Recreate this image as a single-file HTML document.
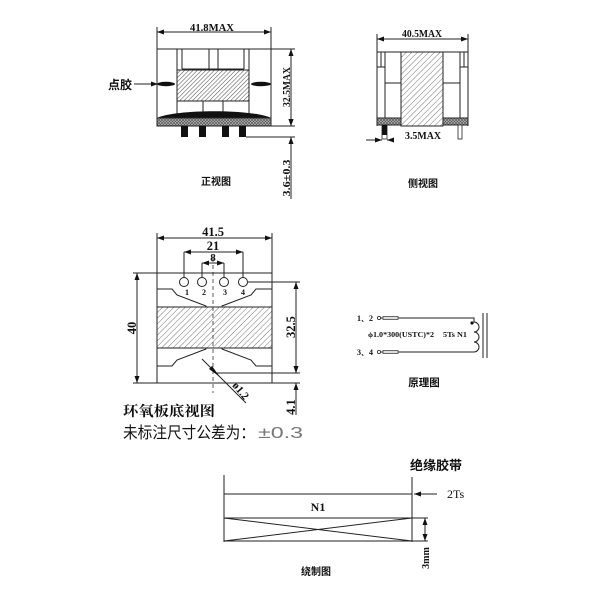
<!DOCTYPE html>
<html><head><meta charset="utf-8"><style>
html,body{margin:0;padding:0;background:#fff;}
svg{display:block;}
.l{stroke:#222;stroke-width:1;fill:none;}
.t{font-family:"Liberation Serif","Noto Serif CJK SC",serif;font-weight:bold;fill:#111;}
.c{font-family:"Liberation Sans","Noto Sans CJK SC",sans-serif;font-weight:bold;fill:#111;}
</style></head><body>
<svg width="600" height="600" viewBox="0 0 600 600" xmlns="http://www.w3.org/2000/svg">
<defs>
<marker id="a" markerUnits="userSpaceOnUse" markerWidth="7" markerHeight="5" refX="7" refY="2.5" orient="auto-start-reverse"><path d="M0,0 L7,2.5 L0,5 z" fill="#111"/></marker>
<pattern id="h" width="3" height="3" patternUnits="userSpaceOnUse" patternTransform="rotate(45)"><rect width="3" height="3" fill="#fff"/><line x1="0" y1="0" x2="0" y2="3" stroke="#555" stroke-width="1.1"/></pattern>
<pattern id="h2" width="4" height="4" patternUnits="userSpaceOnUse" patternTransform="rotate(45)"><rect width="4" height="4" fill="#fff"/><line x1="0" y1="0" x2="0" y2="4" stroke="#666" stroke-width="0.9"/></pattern>
<pattern id="d" width="3" height="3" patternUnits="userSpaceOnUse"><rect width="3" height="3" fill="#bbb"/><path d="M0,0 L3,3 M3,0 L0,3" stroke="#555" stroke-width="0.7"/></pattern>
</defs>

<!-- ===== Front view ===== -->
<line class="l" x1="157" y1="27" x2="157" y2="49"/>
<line class="l" x1="271" y1="27" x2="271" y2="49"/>
<line class="l" x1="157" y1="32" x2="271" y2="32" marker-start="url(#a)" marker-end="url(#a)"/>
<text class="t" x="212" y="31" font-size="11" text-anchor="middle" textLength="44" lengthAdjust="spacingAndGlyphs">41.8MAX</text>
<line class="l" x1="157" y1="49" x2="295" y2="49"/>
<line class="l" x1="157" y1="49" x2="157" y2="118"/>
<line class="l" x1="271" y1="49" x2="271" y2="118"/>
<path class="l" d="M177,49 V70 M182,49 V69 M209,49 V69 M218,49 V69 M244,49 V69 M249,49 V70 M182,69 H244"/>
<rect x="177" y="70" width="72" height="31" fill="url(#h)" stroke="#222" stroke-width="1"/>
<path class="l" d="M177,101 V115 M203,101 V114 M223,101 V114 M249,101 V115"/>
<path d="M157,118 C175,109 253,109 271,118 Z" fill="#111"/>
<rect x="157" y="118" width="114" height="8" fill="url(#d)" stroke="#222" stroke-width="1"/>
<rect x="181" y="126" width="7" height="11" fill="#111"/>
<rect x="199" y="126" width="7" height="11" fill="#111"/>
<rect x="222" y="126" width="7" height="11" fill="#111"/>
<rect x="239" y="126" width="7" height="11" fill="#111"/>
<ellipse cx="166" cy="84" rx="9" ry="2.2" fill="#111"/>
<ellipse cx="261" cy="84" rx="10" ry="2.2" fill="#111"/>
<line class="l" x1="134" y1="84" x2="158" y2="84" marker-end="url(#a)"/>
<text class="c" x="108" y="89" font-size="12">点胶</text>
<line class="l" x1="271" y1="126" x2="295" y2="126"/>
<line class="l" x1="246" y1="137" x2="295" y2="137"/>
<line class="l" x1="291" y1="49" x2="291" y2="126" marker-start="url(#a)" marker-end="url(#a)"/>
<line class="l" x1="291" y1="137" x2="291" y2="199"/>
<path d="M291,137 L288.5,144 L293.5,144 z" fill="#111"/>
<path d="M291,126 L288.5,119 L293.5,119 z" fill="#111"/>
<text class="t" font-size="11" text-anchor="middle" transform="translate(290,87) rotate(-90)" textLength="40" lengthAdjust="spacingAndGlyphs">32.5MAX</text>
<text class="t" font-size="11" text-anchor="middle" transform="translate(290,178) rotate(-90)" textLength="37" lengthAdjust="spacingAndGlyphs">3.6±0.3</text>
<text class="c" x="216" y="185" font-size="10" text-anchor="middle">正视图</text>

<!-- ===== Side view ===== -->
<line class="l" x1="377" y1="34" x2="377" y2="52"/>
<line class="l" x1="468" y1="34" x2="468" y2="52"/>
<line class="l" x1="377" y1="39" x2="468" y2="39" marker-start="url(#a)" marker-end="url(#a)"/>
<text class="t" x="422" y="37" font-size="11" text-anchor="middle" textLength="40" lengthAdjust="spacingAndGlyphs">40.5MAX</text>
<path class="l" d="M377,52 H468 M377,52 V126 M468,52 V126 M381,52 V67 M385,52 V118 M377,67 H385 M385,83 H401 M464,52 V67 M460,52 V118 M468,67 H460 M443,83 H460"/>
<rect x="401" y="52" width="42" height="74" fill="url(#h2)" stroke="#222" stroke-width="1"/>
<rect x="377" y="118" width="24" height="7" fill="url(#d)" stroke="#222" stroke-width="1"/>
<rect x="443" y="118" width="25" height="7" fill="url(#d)" stroke="#222" stroke-width="1"/>
<rect x="382" y="125" width="5" height="14" fill="#fff" stroke="#222" stroke-width="0.8"/>
<rect x="382" y="125" width="5" height="10" fill="#111"/>
<rect x="458" y="125" width="4" height="14" fill="#fff" stroke="#222" stroke-width="0.8"/>
<line class="l" x1="366" y1="140" x2="382" y2="140" marker-end="url(#a)"/>
<line class="l" x1="394" y1="140" x2="387" y2="140" marker-end="url(#a)"/>
<text class="t" x="405" y="139" font-size="11" textLength="36" lengthAdjust="spacingAndGlyphs">3.5MAX</text>
<text class="c" x="423" y="187" font-size="10" text-anchor="middle">侧视图</text>

<!-- ===== Bottom view ===== -->
<line class="l" x1="157" y1="233" x2="157" y2="383"/>
<line class="l" x1="272" y1="233" x2="272" y2="383"/>
<line class="l" x1="157" y1="238" x2="272" y2="238" marker-start="url(#a)" marker-end="url(#a)"/>
<text class="t" x="213" y="236" font-size="12.5" text-anchor="middle">41.5</text>
<line class="l" x1="184" y1="252" x2="243" y2="252" marker-start="url(#a)" marker-end="url(#a)"/>
<text class="t" x="213" y="250" font-size="12.5" text-anchor="middle">21</text>
<line class="l" x1="202" y1="263" x2="224" y2="263" marker-start="url(#a)" marker-end="url(#a)"/>
<text class="t" x="213" y="261" font-size="11" text-anchor="middle">8</text>
<path class="l" d="M184,252 V277 M243,252 V277 M202,263 V277 M224,263 V277"/>
<line x1="213" y1="258" x2="213" y2="393" stroke="#333" stroke-width="0.8" stroke-dasharray="4,3"/>
<circle class="l" cx="184" cy="282" r="4.5"/>
<circle class="l" cx="202" cy="282" r="4.5"/>
<circle class="l" cx="224" cy="282" r="4.5"/>
<circle class="l" cx="243" cy="282" r="4.5"/>
<text class="t" x="187" y="295" font-size="8" text-anchor="middle">1</text>
<text class="t" x="204" y="295" font-size="8" text-anchor="middle">2</text>
<text class="t" x="225" y="295" font-size="8" text-anchor="middle">3</text>
<text class="t" x="243" y="295" font-size="8" text-anchor="middle">4</text>
<line class="l" x1="133" y1="273" x2="272" y2="273"/>
<line class="l" x1="133" y1="383" x2="300" y2="383"/>
<line class="l" x1="137" y1="273" x2="137" y2="383" marker-start="url(#a)" marker-end="url(#a)"/>
<text class="t" font-size="12.5" text-anchor="middle" transform="translate(136,328) rotate(-90)">40</text>
<path class="l" d="M157,289 H172 L177,295 L206,306 V307 M222,307 V306 L251,295 L256,289 H272"/>
<path class="l" d="M157,366 H172 L177,360 L206,349 V348 M222,348 V349 L251,360 L256,366 H272"/>
<rect x="157" y="307" width="115" height="41" fill="url(#h2)" stroke="#222" stroke-width="1"/>
<line x1="213" y1="307" x2="213" y2="348" stroke="#333" stroke-width="0.8" stroke-dasharray="4,3"/>
<line class="l" x1="248" y1="282" x2="300" y2="282"/>
<line class="l" x1="217" y1="373" x2="300" y2="373"/>
<line class="l" x1="296" y1="282" x2="296" y2="373" marker-start="url(#a)" marker-end="url(#a)"/>
<line class="l" x1="296" y1="383" x2="296" y2="415"/>
<path d="M296,383 L293.5,390 L298.5,390 z" fill="#111"/>
<path d="M296,373 L293.5,366 L298.5,366 z" fill="#111"/>
<text class="t" font-size="12.5" text-anchor="middle" transform="translate(295,327) rotate(-90)">32.5</text>
<text class="t" font-size="12.5" text-anchor="middle" transform="translate(295,407) rotate(-90)">4.1</text>
<line class="l" x1="202" y1="359" x2="246" y2="403"/>
<path d="M220,377 L209,369 L212,366 z" fill="#111"/>
<text class="t" font-size="11" text-anchor="middle" transform="translate(238,393) rotate(50)">ø1.2</text>
<text x="123" y="416" font-family="Liberation Serif, 'Noto Serif CJK SC', serif" font-weight="bold" font-size="14" textLength="92" lengthAdjust="spacingAndGlyphs" fill="#111">环氧板底视图</text>
<text x="123" y="438" font-family="Liberation Sans, 'Noto Sans CJK SC', sans-serif" font-size="16" fill="#111" textLength="132" lengthAdjust="spacingAndGlyphs">未标注尺寸公差为：</text>
<text x="258" y="438" font-family="Liberation Sans, 'Noto Sans CJK SC', sans-serif" font-size="16" fill="#777" textLength="45" lengthAdjust="spacingAndGlyphs">±0.3</text>

<!-- ===== Schematic ===== -->
<text class="t" x="357" y="321" font-size="8" textLength="16" lengthAdjust="spacingAndGlyphs">1、2</text>
<text class="t" x="357" y="355" font-size="8" textLength="16" lengthAdjust="spacingAndGlyphs">3、4</text>
<circle cx="379" cy="318" r="1.6" fill="#fff" stroke="#222" stroke-width="0.8"/>
<circle cx="379" cy="352" r="1.6" fill="#fff" stroke="#222" stroke-width="0.8"/>
<line class="l" x1="381" y1="318" x2="383" y2="318"/>
<line class="l" x1="381" y1="352" x2="383" y2="352"/>
<rect x="383" y="316.5" width="15" height="3" fill="#ddd" stroke="#333" stroke-width="0.7"/>
<rect x="383" y="350.5" width="15" height="3" fill="#ddd" stroke="#333" stroke-width="0.7"/>
<path class="l" d="M398,318 H474 V322 a5,5 0 0 1 0,10 a5,5 0 0 1 0,10 a5,5 0 0 1 0,10 H398"/>
<circle cx="472" cy="323" r="1.6" fill="#111"/>
<line class="l" x1="483" y1="313" x2="483" y2="358"/>
<line class="l" x1="487" y1="313" x2="487" y2="358"/>
<text class="t" x="368" y="337" font-size="7.5" textLength="66" lengthAdjust="spacingAndGlyphs">ϕ1.0*300(USTC)*2</text>
<text class="t" x="443" y="337" font-size="7.5" textLength="24" lengthAdjust="spacingAndGlyphs">5Ts N1</text>
<text class="c" x="424" y="386" font-size="10.5" text-anchor="middle">原理图</text>

<!-- ===== Winding diagram ===== -->
<text class="c" x="410" y="470" font-size="13" textLength="52" lengthAdjust="spacingAndGlyphs">绝缘胶带</text>
<line class="l" x1="224" y1="475" x2="224" y2="542"/>
<line class="l" x1="412" y1="477" x2="412" y2="542"/>
<line class="l" x1="224" y1="494" x2="412" y2="494"/>
<line class="l" x1="224" y1="518" x2="428" y2="518"/>
<line class="l" x1="224" y1="541" x2="428" y2="541"/>
<line class="l" x1="224" y1="518" x2="412" y2="541" stroke-width="0.8"/>
<line class="l" x1="224" y1="541" x2="412" y2="518" stroke-width="0.8"/>
<text class="t" x="318" y="511" font-size="12" text-anchor="middle">N1</text>
<line class="l" x1="437" y1="494" x2="414" y2="494" marker-end="url(#a)"/>
<text x="447" y="498" font-family="Liberation Serif, serif" font-size="12" fill="#111">2Ts</text>
<line class="l" x1="425" y1="518" x2="425" y2="541" marker-start="url(#a)" marker-end="url(#a)"/>
<text class="t" font-size="10" text-anchor="middle" transform="translate(429,558) rotate(-90)">3mm</text>
<text class="c" x="316" y="575" font-size="10" text-anchor="middle">绕制图</text>
</svg>
</body></html>
